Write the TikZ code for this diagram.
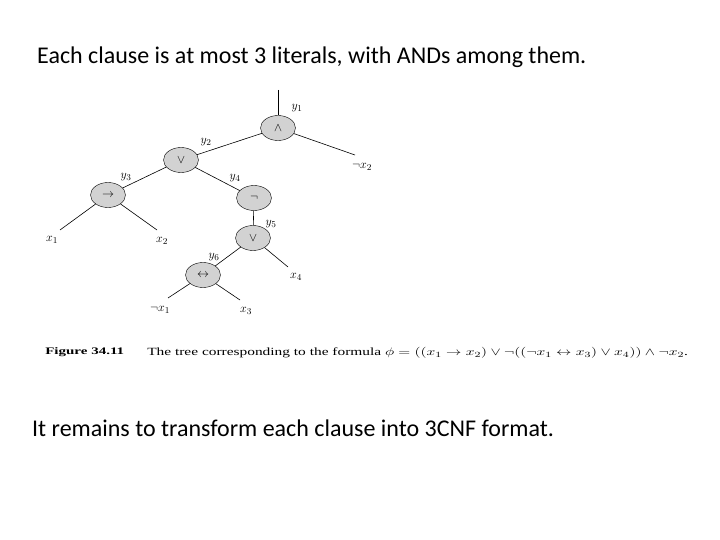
\documentclass[tikz,border=0pt]{standalone}
\usepackage{fontspec}
\setmainfont{Carlito}
\newfontfamily\capfont{Liberation Serif}
\usetikzlibrary{shapes.geometric}
\begin{document}
\begin{tikzpicture}[x=1pt,y=-1pt,
 op/.style={ellipse,draw,fill=gray!35,minimum width=35pt,minimum height=25pt,inner sep=0pt,font=\fontsize{12}{14}\selectfont},
 lf/.style={font=\fontsize{13}{15}\selectfont,inner sep=1pt},
 lab/.style={font=\fontsize{13}{15}\selectfont,inner sep=0pt},
 ln/.style={line width=0.6pt}]
\useasboundingbox (0,0) rectangle (720,540);
\node[anchor=west,inner sep=0pt,font=\fontsize{24}{28}\selectfont] (t1) at (37,57) {Each clause is at most 3 literals, with ANDs among them.};
\node[anchor=west,inner sep=0pt,font=\fontsize{24}{28}\selectfont] (t2) at (32,428) {It remains to transform each clause into 3CNF format.};
\node[op] (y1) at (278,128) {$\wedge$};
\node[op] (y2) at (181,160) {$\vee$};
\node[op] (y3) at (108,195) {$\rightarrow$};
\node[op] (y4) at (254,198) {$\neg$};
\node[op] (y5) at (253,238) {$\vee$};
\node[op] (y6) at (203,275) {$\leftrightarrow$};
\coordinate (top) at (278,90);
\coordinate (e1) at (355,155);
\coordinate (e2) at (60,230);
\coordinate (e3) at (157,230);
\coordinate (e4) at (288,267);
\coordinate (e5) at (168,298);
\coordinate (e6) at (240,300);
\node[lf] (nx2) at (362,167) {$\neg x_2$};
\node[lf] (x1) at (52,240) {$x_1$};
\node[lf] (x2) at (162,241) {$x_2$};
\node[lf] (x4) at (296,277) {$x_4$};
\node[lf] (nx1) at (160,310) {$\neg x_1$};
\node[lf] (x3) at (246,311) {$x_3$};
\node[lab] (l1) at (297,108) {$y_1$};
\node[lab] (l2) at (206,142) {$y_2$};
\node[lab] (l3) at (126,177) {$y_3$};
\node[lab] (l4) at (235,178) {$y_4$};
\node[lab] (l5) at (271,224) {$y_5$};
\node[lab] (l6) at (214,257) {$y_6$};
\draw[ln] (top)--(y1);
\draw[ln] (y1)--(e1);
\draw[ln] (y1)--(y2);
\draw[ln] (y2)--(y3);
\draw[ln] (y2)--(y4);
\draw[ln] (y4)--(y5);
\draw[ln] (y5)--(y6);
\draw[ln] (y5)--(e4);
\draw[ln] (y3)--(e2);
\draw[ln] (y3)--(e3);
\draw[ln] (y6)--(e5);
\draw[ln] (y6)--(e6);
\node[anchor=west,inner sep=0pt,xscale=1.5,font=\capfont\bfseries\fontsize{10}{11}\selectfont] (fig) at (45,352) {Figure 34.11};
\node[anchor=west,inner sep=0pt,xscale=1.4,font=\capfont\fontsize{11}{12}\selectfont] (cap) at (147,353) {The tree corresponding to the formula $\phi=((x_1\rightarrow x_2)\vee\neg((\neg x_1\leftrightarrow x_3)\vee x_4))\wedge\neg x_2$.};
\end{tikzpicture}
\end{document}
